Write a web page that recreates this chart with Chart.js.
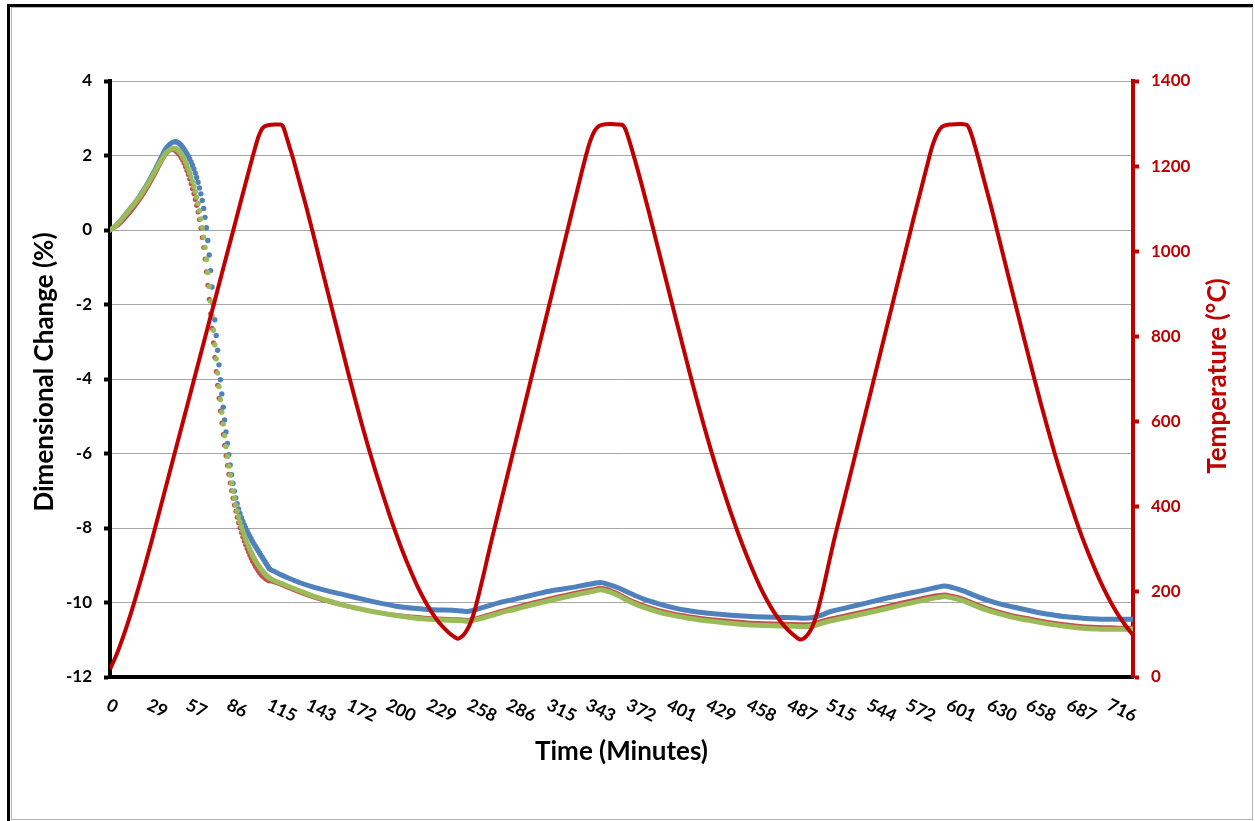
<!DOCTYPE html>
<html>
<head>
<meta charset="utf-8">
<title>Dimensional change and temperature vs time</title>
<script src="https://cdn.jsdelivr.net/npm/chart.js@4.4.1/dist/chart.umd.min.js"></script>
<style>
  html, body { margin: 0; padding: 0; background: #ffffff; }
  #wrap { position: relative; width: 1255px; height: 821px; }
  canvas { display: block; }
</style>
</head>
<body>
<div id="wrap"><canvas id="chart" width="1255" height="821"></canvas></div>
<script>
// ---- Category labels shown under the time axis (minutes) ----
const xTickLabels = [0, 29, 57, 86, 115, 143, 172, 200, 229, 258, 286, 315, 343,
                     372, 401, 429, 458, 487, 515, 544, 572, 601, 630, 658, 687, 716];

// ---- Dimensional change (%) of three specimens ----
// initial heating (sampled sparsely)
const timeRise  = [0, 4, 8, 12, 16, 20, 24, 28, 32, 36, 40, 43, 45];
const blueRise  = [0, 0.11, 0.27, 0.46, 0.65, 0.84, 1.07, 1.33, 1.60, 1.90, 2.19, 2.31, 2.36];
const greenRise = [0, 0.11, 0.27, 0.45, 0.64, 0.83, 1.05, 1.30, 1.56, 1.83, 2.07, 2.16, 2.19];
const redRise   = [0, 0.07, 0.19, 0.35, 0.53, 0.73, 0.95, 1.20, 1.47, 1.76, 2.02, 2.13, 2.15];

// shrinkage step, one reading per minute
const timeDense = [47, 48, 49, 50, 51, 52, 53, 54, 55, 56,
                   57, 58, 59, 60, 61, 62, 63, 64, 65, 66,
                   67, 68, 69, 70, 71, 72, 73, 74, 75, 76,
                   77, 78, 79, 80, 81, 82, 83, 84, 85, 86,
                   87, 88, 89, 90, 91, 92, 93, 94, 95, 96,
                   97, 98, 99, 100, 101, 102, 103, 104, 105, 106,
                   107, 108, 109, 110, 111, 112, 113, 114];
const blueDense = [2.37, 2.36, 2.34, 2.31, 2.27, 2.22, 2.17, 2.11, 2.05, 1.98,
                   1.91, 1.83, 1.74, 1.64, 1.53, 1.41, 1.28, 1.13, 0.97, 0.79,
                   0.58, 0.34, 0.06, -0.28, -0.67, -1.09, -1.53, -1.98, -2.41, -2.83,
                   -3.23, -3.62, -4.02, -4.40, -4.76, -5.10, -5.42, -5.73, -6.03, -6.31,
                   -6.57, -6.80, -7.01, -7.19, -7.35, -7.49, -7.61, -7.72, -7.82, -7.91,
                   -7.99, -8.07, -8.15, -8.22, -8.29, -8.36, -8.43, -8.49, -8.55, -8.61,
                   -8.67, -8.73, -8.79, -8.85, -8.91, -8.97, -9.03, -9.09];
const greenDense = [2.18, 2.16, 2.13, 2.09, 2.04, 1.98, 1.91, 1.83, 1.74, 1.64,
                    1.53, 1.42, 1.30, 1.17, 1.03, 0.88, 0.71, 0.52, 0.30, 0.06,
                    -0.19, -0.47, -0.79, -1.14, -1.52, -1.91, -2.30, -2.69, -3.08, -3.46,
                    -3.84, -4.20, -4.55, -4.89, -5.21, -5.52, -5.81, -6.08, -6.34, -6.58,
                    -6.80, -7.01, -7.20, -7.38, -7.54, -7.69, -7.83, -7.96, -8.08, -8.19,
                    -8.29, -8.39, -8.48, -8.57, -8.65, -8.73, -8.80, -8.87, -8.93, -8.99,
                    -9.05, -9.10, -9.15, -9.20, -9.24, -9.28, -9.31, -9.34];
const redDense = [2.12, 2.09, 2.05, 2.00, 1.94, 1.87, 1.79, 1.70, 1.60, 1.49,
                  1.37, 1.24, 1.11, 0.97, 0.82, 0.66, 0.48, 0.28, 0.05, -0.20,
                  -0.47, -0.78, -1.12, -1.48, -1.86, -2.25, -2.64, -3.03, -3.42, -3.80,
                  -4.17, -4.52, -4.86, -5.18, -5.49, -5.78, -6.06, -6.32, -6.56, -6.79,
                  -7.00, -7.20, -7.38, -7.55, -7.71, -7.86, -7.99, -8.12, -8.24, -8.35,
                  -8.45, -8.55, -8.64, -8.73, -8.81, -8.89, -8.96, -9.03, -9.09, -9.15,
                  -9.20, -9.25, -9.29, -9.32, -9.35, -9.38, -9.40, -9.42];

// thermal cycling after the shrinkage step
const timeAfter = [118, 122, 128, 136, 145, 155, 165, 175, 185, 195,
                   205, 215, 225, 235, 245, 252, 256, 262, 270, 280,
                   290, 300, 310, 320, 330, 340, 346, 351, 357, 364,
                   372, 382, 392, 402, 412, 422, 432, 444, 456, 468,
                   480, 490, 497, 502, 508, 516, 526, 536, 546, 556,
                   566, 576, 586, 592, 597, 603, 610, 618, 627, 636,
                   646, 656, 666, 676, 686, 696, 706, 716, 724, 732];
const blueAfter = [-9.17, -9.25, -9.35, -9.47, -9.58, -9.68, -9.77, -9.86, -9.95, -10.03,
                   -10.10, -10.15, -10.18, -10.20, -10.21, -10.23, -10.24, -10.19, -10.10, -9.99,
                   -9.91, -9.82, -9.73, -9.66, -9.60, -9.53, -9.49, -9.46, -9.52, -9.61,
                   -9.75, -9.91, -10.03, -10.13, -10.21, -10.26, -10.30, -10.34, -10.37, -10.39,
                   -10.40, -10.41, -10.42, -10.41, -10.35, -10.24, -10.15, -10.06, -9.97, -9.88,
                   -9.80, -9.72, -9.64, -9.59, -9.56, -9.60, -9.68, -9.80, -9.93, -10.03,
                   -10.12, -10.20, -10.28, -10.34, -10.39, -10.42, -10.44, -10.45, -10.45, -10.45];
const greenAfter = [-9.42, -9.48, -9.57, -9.69, -9.82, -9.94, -10.05, -10.14, -10.22, -10.29,
                    -10.35, -10.40, -10.44, -10.46, -10.48, -10.49, -10.50, -10.46, -10.38, -10.27,
                    -10.18, -10.08, -9.99, -9.90, -9.82, -9.74, -9.70, -9.66, -9.71, -9.82,
                    -9.98, -10.13, -10.25, -10.34, -10.41, -10.47, -10.51, -10.56, -10.60, -10.62,
                    -10.63, -10.64, -10.65, -10.64, -10.57, -10.49, -10.41, -10.33, -10.25, -10.16,
                    -10.07, -9.99, -9.91, -9.87, -9.84, -9.88, -9.95, -10.07, -10.20, -10.30,
                    -10.40, -10.47, -10.54, -10.60, -10.65, -10.69, -10.71, -10.72, -10.72, -10.72];
const redAfter = [-9.47, -9.53, -9.62, -9.74, -9.86, -9.97, -10.07, -10.15, -10.22, -10.28,
                  -10.33, -10.37, -10.40, -10.42, -10.44, -10.45, -10.46, -10.42, -10.33, -10.22,
                  -10.12, -10.02, -9.93, -9.84, -9.76, -9.68, -9.64, -9.60, -9.65, -9.76,
                  -9.92, -10.07, -10.19, -10.28, -10.35, -10.41, -10.45, -10.49, -10.53, -10.55,
                  -10.56, -10.57, -10.58, -10.57, -10.50, -10.42, -10.34, -10.26, -10.18, -10.09,
                  -10.00, -9.92, -9.84, -9.80, -9.78, -9.82, -9.89, -10.01, -10.14, -10.24,
                  -10.34, -10.41, -10.48, -10.54, -10.59, -10.63, -10.65, -10.66, -10.67, -10.67];

// ---- Furnace temperature (°C), [minute, temperature] per leg of each cycle ----
const heat1 = [[0,18],[5,55],[10,100],[15,150],[20,205],[25,262],[30,322],[40,447],[50,572],
               [60,697],[70,822],[80,947],[90,1072],[100,1197],[104,1245],[106,1267],[108,1283],
               [110,1292],[113,1296],[118,1298],[122,1298]];
const cool1 = [[124,1292],[126,1272],[128,1250],[131,1218],[135,1170],[140,1110],[145,1046],
               [150,980],[155,915],[160,850],[165,785],[170,720],[175,657],[180,596],[185,538],
               [190,483],[195,431],[200,381],[205,334],[210,290],[215,250],[220,213],[225,181],
               [230,153],[235,130],[240,112],[244,100],[247,93],[249,90]];
const heat2 = [[251,93],[253,99],[255,108],[257,120],[259,136],[261,157],[263,182],[265,209],
               [268,250],[270,279],[273,321],[280,415],[290,549],[300,683],[310,817],[320,951],
               [330,1085],[338,1192],[341,1230],[343,1253],[345,1271],[347,1284],[349,1292],
               [352,1297],[358,1299],[364,1298],[367,1296]];
const cool2 = [[369,1285],[371,1266],[373,1244],[376,1210],[380,1162],[385,1100],[390,1035],
               [395,970],[400,905],[405,840],[410,776],[415,712],[420,650],[425,590],[430,533],
               [435,479],[440,428],[445,379],[450,333],[455,290],[460,250],[465,213],[470,181],
               [475,153],[480,130],[485,111],[489,99],[492,91],[494,88]];
const heat3 = [[496,90],[498,95],[500,103],[502,114],[504,130],[506,151],[508,176],[510,203],
               [513,247],[515,277],[518,320],[525,412],[535,545],[545,678],[555,811],[565,944],
               [575,1077],[583,1180],[586,1218],[588,1243],[590,1262],[592,1277],[594,1288],
               [597,1295],[602,1298],[608,1299],[613,1297]];
const cool3 = [[615,1287],[617,1268],[619,1246],[622,1210],[626,1160],[631,1098],[636,1032],
               [641,966],[646,900],[651,835],[656,770],[661,706],[666,643],[671,583],[676,525],
               [681,471],[686,420],[691,371],[696,325],[701,283],[706,244],[711,208],[716,176],
               [721,148],[726,124],[732,98]];

// ---- Styling ----
const FONT = 'Lato, "Open Sans", "Liberation Sans", sans-serif';
const COLORS = { blue: '#4F81BD', green: '#9BBB59', red: '#C0504D', furnace: '#C00000' };

function toPoints(times, values) {
  return times.map((t, i) => ({ x: t, y: values[i] }));
}

// Readings taken one minute apart are shown as separate dots, the rest as a line.
function isDense(data, i) {
  const p = data[i - 1], n = data[i + 1];
  return (p && data[i].x - p.x < 1.5) || (n && n.x - data[i].x < 1.5);
}

function specimenDataset(label, color, width, dotRadius, rise, dense, after) {
  const data = [].concat(toPoints(timeRise, rise), toPoints(timeDense, dense), toPoints(timeAfter, after));
  return {
    label,
    data,
    yAxisID: 'yD',
    xAxisID: 'x',
    borderColor: color,
    backgroundColor: color,
    pointBackgroundColor: color,
    pointBorderWidth: 0,
    borderWidth: width,
    borderJoinStyle: 'round',
    borderCapStyle: 'round',
    cubicInterpolationMode: 'monotone',
    pointRadius: ctx => (isDense(ctx.dataset.data, ctx.dataIndex) ? dotRadius : 0),
    pointHoverRadius: 0,
    segment: {
      borderColor: ctx => (ctx.p1.parsed.x - ctx.p0.parsed.x < 1.5 ? 'rgba(0,0,0,0)' : color)
    }
  };
}

const furnaceData = [].concat(heat1, cool1, heat2, cool2, heat3, cool3).map(([t, c]) => ({ x: t, y: c }));

const datasets = [
  {
    label: 'Temperature',
    data: furnaceData,
    yAxisID: 'yT',
    xAxisID: 'x',
    borderColor: COLORS.furnace,
    borderWidth: 4,
    pointRadius: 0,
    borderJoinStyle: 'round',
    cubicInterpolationMode: 'monotone'
  },
  specimenDataset('Specimen C', COLORS.green, 5, 2.7, greenRise, greenDense, greenAfter),
  specimenDataset('Specimen A', COLORS.blue, 5, 2.7, blueRise, blueDense, blueAfter),
  specimenDataset('Specimen B', COLORS.red, 3.5, 2.5, redRise, redDense, redAfter)
];

// White page with the chart's frame
const framePlugin = {
  id: 'frame',
  beforeDraw(chart) {
    const { ctx, width, height } = chart;
    ctx.save();
    ctx.fillStyle = '#ffffff';
    ctx.fillRect(0, 0, width, height);
    ctx.strokeStyle = '#b4b4b4';
    ctx.lineWidth = 1;
    ctx.strokeRect(11.5, 7.5, 1241, 812);
    ctx.fillStyle = '#000000';
    ctx.fillRect(7, 4, 3, height - 4);
    ctx.fillRect(7, 4, 1246, 3);
    ctx.restore();
  }
};

// Slanted time labels and the three axis titles
const labelPlugin = {
  id: 'axisText',
  afterDraw(chart) {
    const { ctx } = chart;
    const xs = chart.scales.x;
    ctx.save();
    ctx.fillStyle = '#000000';
    ctx.font = 'bold 17.5px ' + FONT;
    ctx.textAlign = 'left';
    ctx.textBaseline = 'top';
    const angle = 26 * Math.PI / 180;
    xTickLabels.forEach(v => {
      const px = xs.getPixelForValue(v);
      ctx.save();
      ctx.translate(px + 1.5, 696);
      ctx.rotate(angle);
      ctx.fillText(String(v), 0, 0);
      ctx.restore();
    });

    ctx.textAlign = 'center';
    ctx.textBaseline = 'middle';
    ctx.font = 'bold 26px ' + FONT;
    ctx.fillText('Time (Minutes)', (chart.chartArea.left + chart.chartArea.right) / 2, 752);

    ctx.save();
    ctx.translate(45, 372);
    ctx.rotate(-Math.PI / 2);
    ctx.fillText('Dimensional Change (%)', 0, 0);
    ctx.restore();

    ctx.save();
    ctx.fillStyle = COLORS.furnace;
    ctx.translate(1218, 376);
    ctx.rotate(-Math.PI / 2);
    ctx.fillText('Temperature (°C)', 0, 0);
    ctx.restore();

    ctx.restore();
  }
};

new Chart(document.getElementById('chart').getContext('2d'), {
  type: 'line',
  data: { datasets },
  options: {
    responsive: false,
    animation: false,
    devicePixelRatio: 1,
    events: [],
    layout: { padding: { top: 81, right: 0, bottom: 0, left: 0 } },
    plugins: { legend: { display: false }, tooltip: { enabled: false } },
    scales: {
      x: {
        type: 'linear',
        position: 'bottom',
        min: 0,
        max: 732,
        afterBuildTicks: s => { s.ticks = xTickLabels.map(v => ({ value: v })); },
        afterFit: s => { s.height = 144; },
        ticks: { display: false },
        grid: { display: false, drawTicks: false },
        border: { display: true, color: '#000000', width: 4 }
      },
      yD: {
        type: 'linear',
        position: 'left',
        min: -12,
        max: 4,
        afterFit: s => { s.width = 110; },
        ticks: { stepSize: 2, color: '#000000', padding: 12, callback: v => String(v),
                 font: { family: FONT, weight: 'bold', size: 17 } },
        grid: { color: '#a6a6a6', lineWidth: 1, drawTicks: true, tickLength: 6, tickColor: '#000000', tickWidth: 4 },
        border: { display: true, color: '#000000', width: 4 }
      },
      yT: {
        type: 'linear',
        position: 'right',
        min: 0,
        max: 1400,
        afterFit: s => { s.width = 122; },
        ticks: { stepSize: 200, color: COLORS.furnace, padding: 12, callback: v => String(v),
                 font: { family: FONT, weight: 'bold', size: 17 } },
        grid: { drawOnChartArea: false, drawTicks: true, tickLength: 6, tickColor: COLORS.furnace, tickWidth: 4 },
        border: { display: true, color: COLORS.furnace, width: 4 }
      }
    }
  },
  plugins: [framePlugin, labelPlugin]
});
</script>
</body>
</html>
